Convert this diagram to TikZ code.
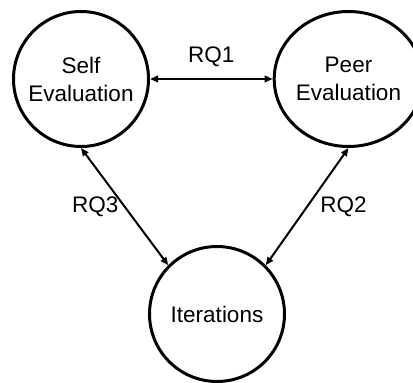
\documentclass[tikz,border=0pt]{standalone}
\usepackage{fontspec}
\setmainfont{Liberation Sans}
\usetikzlibrary{arrows.meta,shapes.geometric}
\begin{document}
\begin{tikzpicture}[x=1pt, y=1pt,
    phase/.style={draw, line width=3pt, circle, minimum size=135pt, inner sep=0pt, align=center, font=\fontsize{22.5}{28}\selectfont},
    link/.style={{Triangle[length=8pt,width=6.5pt]}-{Triangle[length=8pt,width=6.5pt]}, line width=2pt},
    rq/.style={font=\fontsize{22.5}{27}\selectfont}]
    \useasboundingbox (0,0) rectangle (413,383);
    % Phases
    \node[phase] (self) at (81,304) {Self\\Evaluation};
    \node[phase, ellipse, minimum width=124.5pt, minimum height=135pt] (peer) at (348.5,304) {Peer\\Evaluation};
    \node[phase] (iter) at (217,69) {Iterations};
    % RQ1 between self and peer
    \draw[link] (self.east) -- (peer.west) node[rq, midway, above=8pt] {RQ1};
    % RQ2 between peer and iterations
    \draw[link] (peer.south) -- (iter.45) node[rq, midway, right=9pt] {RQ2};
    % RQ3 between self and iterations
    \draw[link] (self.south) -- (iter.135) node[rq, midway, left=2pt] {RQ3};
\end{tikzpicture}
\end{document}
